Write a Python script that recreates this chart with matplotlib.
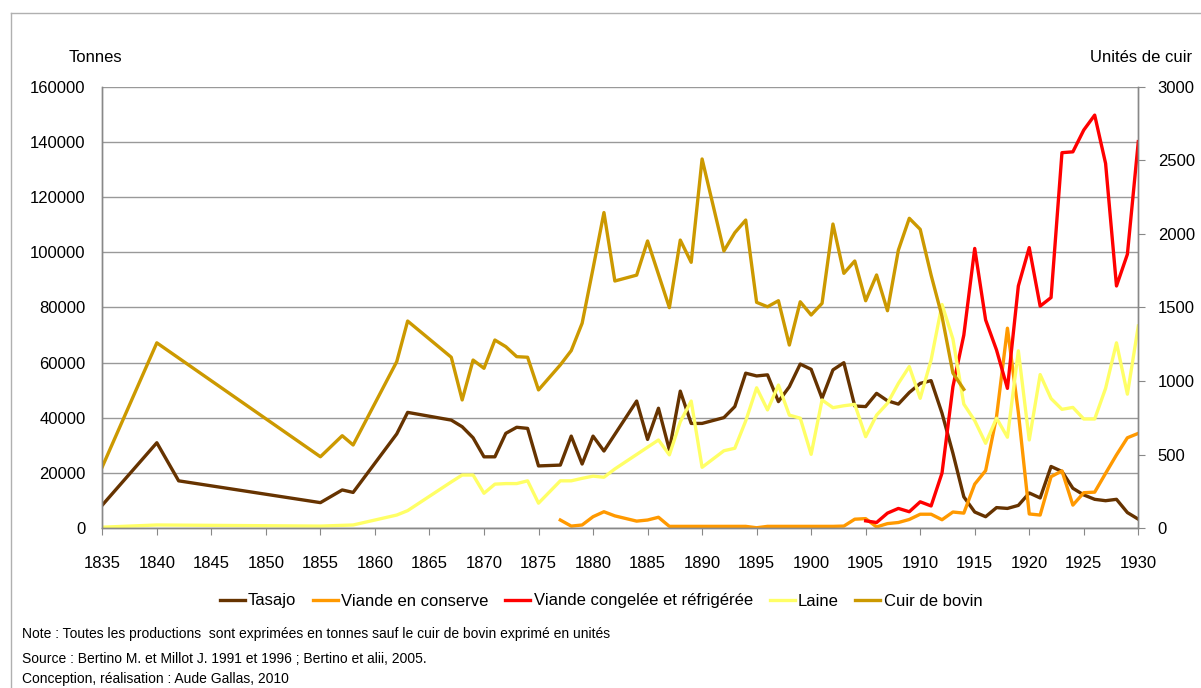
import matplotlib
matplotlib.use("Agg")
import matplotlib.pyplot as plt
from matplotlib.lines import Line2D

plt.rcParams['font.family'] = ['Liberation Sans', 'DejaVu Sans']

# --- data ---
tasajo_years = [1835, 1840, 1842, 1855, 1857, 1858, 1862, 1863, 1867, 1868, 1869, 1870,
                1871, 1872, 1873, 1874, 1875, 1877, 1878, 1879, 1880, 1881, 1884, 1885,
                1886, 1887, 1888, 1889, 1890, 1892, 1893, 1894, 1895, 1896, 1897, 1898,
                1899, 1900, 1901, 1902, 1903, 1904, 1905, 1906, 1907, 1908, 1909, 1910,
                1911, 1912, 1913, 1914, 1915, 1916, 1917, 1918, 1919, 1920, 1921, 1922,
                1923, 1924, 1925, 1926, 1927, 1928, 1929, 1930]
tasajo = [8400, 31000, 17200, 9300, 13900, 13000, 34200, 42000, 39200, 36800, 32800, 25900,
          25900, 34400, 36600, 36200, 22600, 22900, 33400, 23300, 33400, 28000, 46100, 32200,
          43500, 28400, 49700, 38000, 38000, 40100, 44100, 56200, 55200, 55600, 45900, 51300,
          59500, 57600, 47100, 57400, 60000, 44300, 44100, 48900, 46200, 45000, 49200, 52500,
          53500, 41700, 27200, 11400, 5900, 4200, 7500, 7200, 8300, 12800, 11000, 22400,
          20600, 14500, 12100, 10500, 10000, 10500, 5700, 3300]

conserve_years = [1877, 1878, 1879, 1880, 1881, 1882, 1884, 1885, 1886, 1887, 1888, 1889,
                  1890, 1892, 1893, 1894, 1895, 1896, 1897, 1898, 1899, 1900, 1901, 1902,
                  1903, 1904, 1905, 1906, 1907, 1908, 1909, 1910, 1911, 1912, 1913, 1914,
                  1915, 1916, 1917, 1918, 1919, 1920, 1921, 1922, 1923, 1924, 1925, 1926,
                  1927, 1928, 1929, 1930]
conserve = [3000, 800, 1200, 4200, 6000, 4500, 2600, 3000, 4000, 700, 700, 700,
            700, 700, 700, 700, 200, 700, 700, 700, 700, 700, 700, 700,
            800, 3300, 3500, 500, 1700, 2100, 3200, 5100, 5100, 3100, 5900, 5500,
            16000, 20900, 40400, 72500, 42000, 5200, 4800, 18700, 20800, 8400, 12900, 13100,
            19900, 26600, 32800, 34400]

congelee_years = list(range(1905, 1931))
congelee = [2700, 2100, 5500, 7200, 6000, 9600, 8100, 20000, 51300, 70000, 101400, 75500,
            64600, 50700, 87800, 101700, 80500, 83600, 136100, 136400, 144300, 149700,
            132200, 87800, 99300, 140100]

laine_years = [1835, 1840, 1855, 1858, 1862, 1863, 1867, 1868, 1869, 1870, 1871, 1872,
               1873, 1874, 1875, 1877, 1878, 1879, 1880, 1881, 1882, 1886, 1887, 1888,
               1889, 1890, 1892, 1893, 1894, 1895, 1896, 1897, 1898, 1899, 1900, 1901,
               1902, 1903, 1904, 1905, 1906, 1907, 1908, 1909, 1910, 1911, 1912, 1913,
               1914, 1915, 1916, 1917, 1918, 1919, 1920, 1921, 1922, 1923, 1924, 1925,
               1926, 1927, 1928, 1929, 1930]
laine = [400, 1200, 800, 1200, 4800, 6400, 16800, 19300, 19300, 12700, 16000, 16200,
         16200, 17200, 9100, 17200, 17200, 18100, 18900, 18500, 21500, 32000, 26600, 38600,
         46100, 22100, 28100, 29000, 38900, 50900, 42900, 51900, 41000, 39900, 26800, 46500,
         43700, 44400, 44900, 33200, 41000, 45300, 52500, 58600, 47100, 61000, 81100, 68600,
         45000, 39000, 30800, 39900, 33000, 64300, 32000, 55700, 47000, 43100, 43800, 39600,
         39600, 50700, 67200, 48600, 73300]

# cuir de bovin: in units, right axis
cuir_years = [1835, 1840, 1855, 1857, 1858, 1862, 1863, 1867, 1868, 1869, 1870, 1871,
              1872, 1873, 1874, 1875, 1877, 1878, 1879, 1880, 1881, 1882, 1884, 1885,
              1887, 1888, 1889, 1890, 1892, 1893, 1894, 1895, 1896, 1897, 1898, 1899,
              1900, 1901, 1902, 1903, 1904, 1905, 1906, 1907, 1908, 1909, 1910, 1911,
              1912, 1913, 1914]
cuir = [418, 1260, 486, 629, 566, 1132, 1408, 1162, 872, 1143, 1087, 1279,
        1234, 1166, 1162, 940, 1110, 1207, 1393, 1765, 2145, 1680, 1720, 1952,
        1499, 1958, 1807, 2509, 1884, 2008, 2094, 1535, 1505, 1546, 1245, 1539,
        1449, 1528, 2067, 1732, 1816, 1546, 1721, 1478, 1890, 2106, 2031, 1720,
        1440, 1055, 944]

x_ticks = list(range(1835, 1931, 5))
left_ticks = list(range(0, 160001, 20000))
right_ticks = list(range(0, 3001, 500))

# --- figure ---
W, H = 1201, 688
fig = plt.figure(figsize=(W / 100, H / 100), dpi=100)
ax = fig.add_axes([102.3 / W, 1 - 528.3 / H, (1138.3 - 102.3) / W, (528.3 - 86.7) / H])
ax2 = ax.twinx()

lw = 2.4
ax.plot(tasajo_years, tasajo, color='#663300', lw=lw, label='Tasajo')
ax.plot(conserve_years, conserve, color='#FF9900', lw=lw, label='Viande en conserve')
ax.plot(congelee_years, congelee, color='#FF0000', lw=lw, label='Viande congelée et réfrigérée')
ax.plot(laine_years, laine, color='#FFFF66', lw=lw, label='Laine')
ax2.plot(cuir_years, cuir, color='#CC9900', lw=lw, label='Cuir de bovin')

ax.set_xlim(1835, 1930)
ax.set_ylim(0, 160000)
ax2.set_ylim(0, 3000)
ax.set_xticks(x_ticks)
ax.set_yticks(left_ticks)
ax2.set_yticks(right_ticks)
ax.set_yticklabels([str(v) for v in left_ticks])
ax2.set_yticklabels([str(v) for v in right_ticks])

ax.grid(axis='y', color='#999999', lw=1)
ax.set_axisbelow(True)

for a in (ax, ax2):
    for s in a.spines.values():
        s.set_color('#888888')
        s.set_linewidth(1)
ax.spines['top'].set_visible(False)
ax2.spines['top'].set_visible(False)

ax.tick_params(axis='y', length=0, pad=12, labelsize=12)
ax.tick_params(axis='x', length=5, color='#888888', pad=15, labelsize=12)
ax2.tick_params(axis='y', length=5, color='#888888', pad=9, labelsize=12)

fig.text(95 / W, 1 - 58 / H, 'Tonnes', ha='center', va='center', fontsize=12)
fig.text(1192 / W, 1 - 58 / H, 'Unités de cuir', ha='right', va='center', fontsize=12)

h1, l1 = ax.get_legend_handles_labels()
h2, l2 = ax2.get_legend_handles_labels()
fig.legend(h1 + h2, l1 + l2, loc='center', bbox_to_anchor=(601 / W, 1 - 601 / H),
           ncol=5, frameon=False, fontsize=12, handlelength=1.5, handletextpad=0.2,
           columnspacing=1.0)

fig.text(22 / W, 1 - 634 / H,
         'Note : Toutes les productions  sont exprimées en tonnes sauf le cuir de bovin exprimé en unités',
         ha='left', va='center', fontsize=10)
fig.text(22 / W, 1 - 659 / H,
         'Source : Bertino M. et Millot J. 1991 et 1996 ; Bertino et alii, 2005.',
         ha='left', va='center', fontsize=10)
fig.text(22 / W, 1 - 679 / H, 'Conception, réalisation : Aude Gallas, 2010',
         ha='left', va='center', fontsize=10)

# outer frame
fig.add_artist(Line2D([10.5 / W, 10.5 / W], [0, 1 - 12.7 / H], color='#b0b0b0', lw=1,
                      transform=fig.transFigure))
fig.add_artist(Line2D([10.5 / W, 1], [1 - 12.7 / H, 1 - 12.7 / H], color='#b0b0b0', lw=1,
                      transform=fig.transFigure))

fig.savefig('out.png', dpi=100)
